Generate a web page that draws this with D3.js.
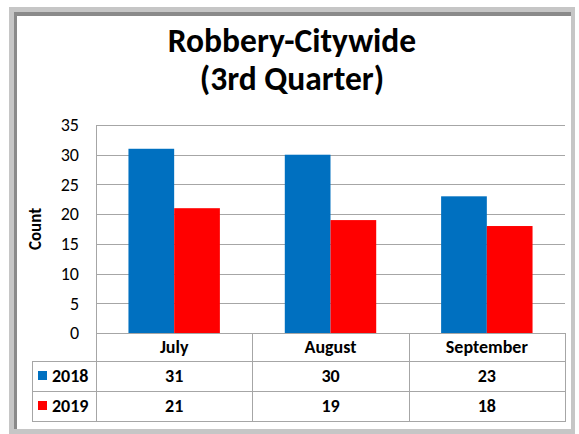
<!DOCTYPE html>
<html>
<head>
<meta charset="utf-8">
<script src="https://cdn.jsdelivr.net/npm/d3@7"></script>
<style>
  body { margin: 0; background: #fff; }
  text { font-family: Carlito, "Open Sans", "Liberation Sans", sans-serif; }
</style>
</head>
<body>
<div id="chart"></div>
<script>
// The data
var months = ['July', 'August', 'September'];
var seriesNames = ['2018', '2019'];
var values2018 = [31, 30, 23];
var values2019 = [21, 19, 18];
var yTicks = [0, 5, 10, 15, 20, 25, 30, 35];
var colors = ['#0070C0', '#FF0000'];

var series = [values2018, values2019];

var W = 579, H = 434;
var plot = { left: 96, right: 565, top: 125, bottom: 333 };
// table row boundaries (header, 2018, 2019)
var rowLines = [333, 361, 391, 421];
var legendLeft = 32;

var svg = d3.select('#chart').append('svg')
    .attr('width', W)
    .attr('height', H);

// Outer frame: light gray band with darker bevel on top and left
svg.append('rect')
    .attr('x', 9).attr('y', 7)
    .attr('width', 566).attr('height', 427)
    .style('fill', '#c6c6c6');
svg.append('rect')
    .attr('x', 14).attr('y', 12)
    .attr('width', 557).attr('height', 417)
    .style('fill', '#8a8a8a');
svg.append('rect')
    .attr('x', 17).attr('y', 16)
    .attr('width', 554).attr('height', 413)
    .style('fill', '#fff');

// Title
svg.append('text')
    .attr('x', 292).attr('y', 52)
    .attr('text-anchor', 'middle')
    .style('font-size', '33.5px').style('font-weight', 'bold')
    .text('Robbery-Citywide');
svg.append('text')
    .attr('x', 292).attr('y', 90)
    .attr('text-anchor', 'middle')
    .style('font-size', '33.5px').style('font-weight', 'bold')
    .text('(3rd Quarter)');

// Scales
var x = d3.scaleBand()
    .domain(months)
    .range([plot.left, plot.right]);

var xInner = d3.scaleBand()
    .domain(seriesNames)
    .range([0, x.bandwidth()])
    .paddingOuter(0.71);

var y = d3.scaleLinear()
    .domain([0, 35])
    .range([plot.bottom, plot.top]);

// Gridlines
svg.append('g')
  .selectAll('line')
    .data(yTicks)
    .enter()
  .append('line')
    .attr('x1', plot.left).attr('x2', plot.right)
    .attr('y1', function(d) { return Math.round(y(d)) + 0.5; })
    .attr('y2', function(d) { return Math.round(y(d)) + 0.5; })
    .style('stroke', '#a6a6a6');

// Y axis line
svg.append('line')
    .attr('x1', plot.left + 0.5).attr('x2', plot.left + 0.5)
    .attr('y1', plot.top).attr('y2', plot.bottom)
    .style('stroke', '#a6a6a6');

// Y axis labels
var yAxis = svg.append('g')
    .attr('transform', 'translate(' + (plot.left - 17) + ',0)')
    .call(d3.axisLeft(y).tickValues(yTicks).tickSize(0).tickPadding(0));
yAxis.select('.domain').remove();
yAxis.selectAll('text')
    .style('font-family', 'Carlito, "Open Sans", "Liberation Sans", sans-serif')
    .style('font-size', '18px')
    .style('fill', '#000');

svg.append('text')
    .attr('transform', 'translate(41,' + ((plot.top + plot.bottom) / 2) + ') rotate(-90)')
    .attr('text-anchor', 'middle')
    .style('font-size', '17px').style('font-weight', 'bold')
    .text('Count');

// Bars
var groups = svg.append('g')
  .selectAll('g')
    .data(months)
    .enter()
  .append('g')
    .attr('transform', function(d) { return 'translate(' + x(d) + ',0)'; });

groups.selectAll('rect')
    .data(function(d, i) { return series.map(function(s, j) { return { name: seriesNames[j], value: s[i], color: colors[j] }; }); })
    .enter()
  .append('rect')
    .attr('x', function(d) { return xInner(d.name); })
    .attr('y', function(d) { return y(d.value); })
    .attr('width', xInner.bandwidth())
    .attr('height', function(d) { return plot.bottom - y(d.value); })
    .style('fill', function(d) { return d.color; });

// Data table
var tbl = svg.append('g').style('stroke', '#a6a6a6').style('fill', 'none');
var tableBottom = rowLines[3];

// horizontal lines
rowLines.forEach(function(r, i) {
  tbl.append('line')
      .attr('x1', i === 0 ? plot.left : legendLeft).attr('x2', plot.right + 1)
      .attr('y1', r + 0.5).attr('y2', r + 0.5);
});
// vertical lines
months.forEach(function(m) {
  tbl.append('line')
      .attr('x1', Math.round(x(m)) + 0.5).attr('x2', Math.round(x(m)) + 0.5)
      .attr('y1', plot.bottom).attr('y2', tableBottom);
});
tbl.append('line')
    .attr('x1', plot.right + 0.5).attr('x2', plot.right + 0.5)
    .attr('y1', plot.bottom).attr('y2', tableBottom);
tbl.append('line')
    .attr('x1', legendLeft + 0.5).attr('x2', legendLeft + 0.5)
    .attr('y1', rowLines[1]).attr('y2', tableBottom);

// month headers
svg.append('g')
  .selectAll('text')
    .data(months)
    .enter()
  .append('text')
    .attr('x', function(d) { return x(d) + x.bandwidth() / 2; })
    .attr('y', (rowLines[0] + rowLines[1]) / 2 + 6)
    .attr('text-anchor', 'middle')
    .style('font-size', '18px').style('font-weight', 'bold')
    .text(function(d) { return d; });

// value rows
series.forEach(function(s, j) {
  var cy = (rowLines[j + 1] + rowLines[j + 2]) / 2;
  svg.append('rect')
      .attr('x', 38).attr('y', cy - 5)
      .attr('width', 9).attr('height', 9)
      .style('fill', colors[j]);
  svg.append('text')
      .attr('x', 52).attr('y', cy + 6)
      .style('font-size', '18px').style('font-weight', 'bold')
      .text(seriesNames[j]);
  svg.append('g')
    .selectAll('text')
      .data(s)
      .enter()
    .append('text')
      .attr('x', function(d, i) { return x(months[i]) + x.bandwidth() / 2; })
      .attr('y', cy + 6)
      .attr('text-anchor', 'middle')
      .style('font-size', '18px').style('font-weight', 'bold')
      .text(function(d) { return d; });
});
</script>
</body>
</html>
